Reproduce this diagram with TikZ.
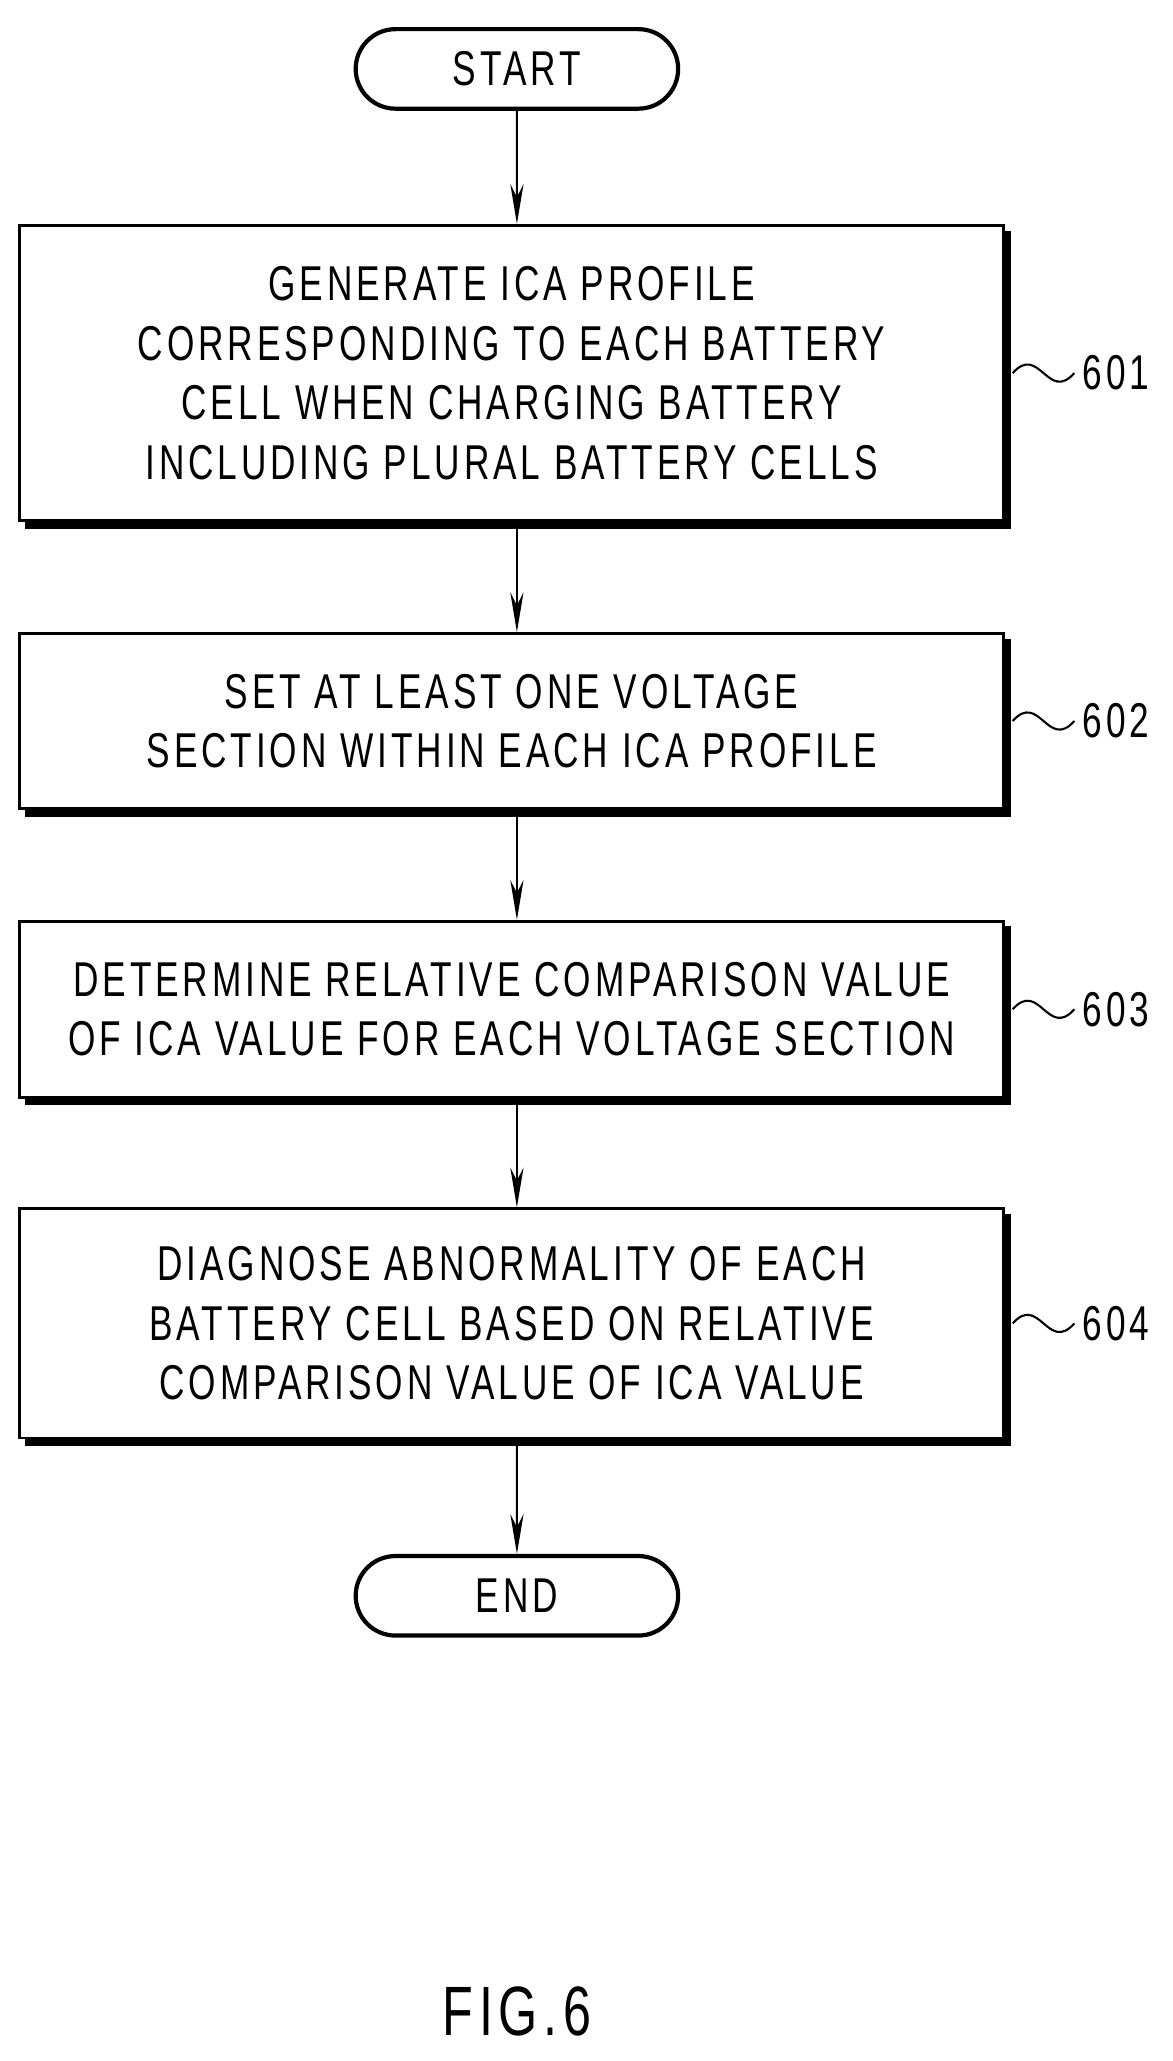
\documentclass[tikz,border=0pt]{standalone}
\usepackage{fontspec}
\setmainfont{Liberation Sans}[FakeStretch=0.72,LetterSpace=8]
\usetikzlibrary{positioning,arrows.meta,shapes.misc,backgrounds}
\tikzset{
  stepbox/.style={draw,line width=1.2pt,minimum width=14.84cm,align=center,
    font=\fontsize{21}{25.6}\selectfont,fill=white},
  term/.style={draw,line width=1.8pt,rounded rectangle,minimum width=5.1cm,
    minimum height=1.2cm,font=\fontsize{21}{25.6}\selectfont},
  flow/.style={line width=0.9pt,-{Stealth[length=6mm,width=2mm]}},
  refno/.style={font=\fontsize{21}{25}\selectfont,anchor=west},
  tilde/.style={line width=0.9pt}
}
\begin{document}
\begin{tikzpicture}
\useasboundingbox (0,0) rectangle (17.7,-31.1);
% terminals
\node[term] (start) at (7.8,-1.04) {START};
\node[term] (end) at (7.8,-24.08) {END};
% steps
\node[stepbox,minimum height=4.46cm] (s601) at (7.72,-5.63) {GENERATE ICA PROFILE\\CORRESPONDING TO EACH BATTERY\\CELL WHEN CHARGING BATTERY\\INCLUDING PLURAL BATTERY CELLS};
\node[stepbox,minimum height=2.64cm] (s602) at (7.72,-10.88) {SET AT LEAST ONE VOLTAGE\\SECTION WITHIN EACH ICA PROFILE};
\node[stepbox,minimum height=2.66cm] (s603) at (7.72,-15.23) {DETERMINE RELATIVE COMPARISON VALUE\\OF ICA VALUE FOR EACH VOLTAGE SECTION};
\node[stepbox,minimum height=3.46cm] (s604) at (7.72,-19.97) {DIAGNOSE ABNORMALITY OF EACH\\BATTERY CELL BASED ON RELATIVE\\COMPARISON VALUE OF ICA VALUE};
% shadows
\begin{scope}[on background layer]
\foreach \b in {s601,s602,s603,s604}
  \fill ([shift={(0.1,-0.1)}]\b.south west) rectangle ([shift={(0.1,-0.1)}]\b.north east);
\end{scope}
% arrows
\draw[flow] (start) -- (start |- s601.north);
\draw[flow] (start |- s601.south) -- (start |- s602.north);
\draw[flow] (start |- s602.south) -- (start |- s603.north);
\draw[flow] (start |- s603.south) -- (start |- s604.north);
\draw[flow] (start |- s604.south) -- (end);
% reference numerals
\foreach \b/\n in {s601/601,s602/602,s603/603,s604/604}{
  \node[refno] (l\n) at ([xshift=1.05cm]\b.east) {\n};
  \draw[tilde] ([xshift=0.12cm]\b.east) .. controls +(0.4,0.45) and +(-0.4,-0.45) .. (l\n.west);
}
\node[font=\fontsize{30}{34}\selectfont] (fig) at (7.8,-30.35) {FIG.6};
\end{tikzpicture}
\end{document}
